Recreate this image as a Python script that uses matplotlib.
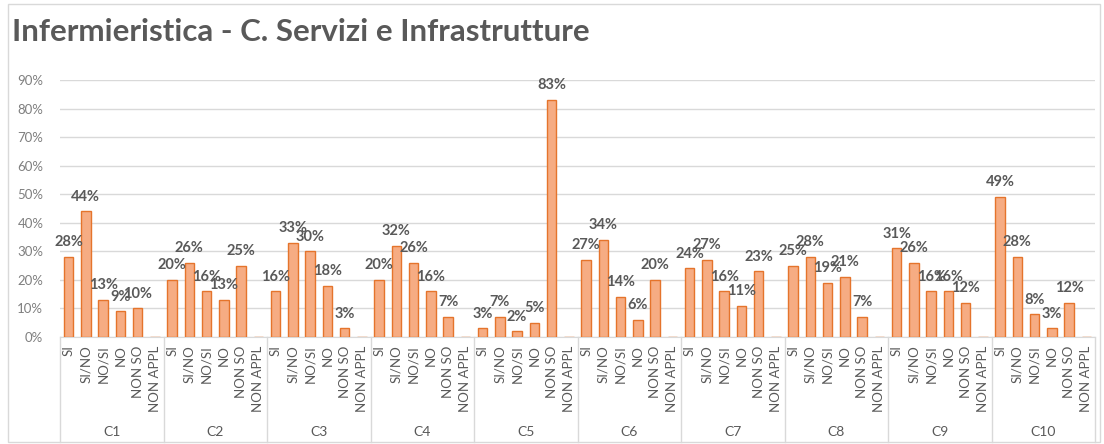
import numpy as np
import matplotlib
matplotlib.use('Agg')
from matplotlib import pyplot as plt
import matplotlib.transforms as mtransforms

plt.rcParams['font.family'] = ['Lato', 'DejaVu Sans']

gruppi = ['C1', 'C2', 'C3', 'C4', 'C5', 'C6', 'C7', 'C8', 'C9', 'C10']
risposte = ['SI', 'SI/NO', 'NO/SI', 'NO', 'NON SO', 'NON APPL']
# percentuali per gruppo (SI, SI/NO, NO/SI, NO, NON SO, NON APPL)
c1 = [28, 44, 13, 9, 10, 0]
c2 = [20, 26, 16, 13, 25, 0]
c3 = [16, 33, 30, 18, 3, 0]
c4 = [20, 32, 26, 16, 7, 0]
c5 = [3, 7, 2, 5, 83, 0]
c6 = [27, 34, 14, 6, 20, 0]
c7 = [24, 27, 16, 11, 23, 0]
c8 = [25, 28, 19, 21, 7, 0]
c9 = [31, 26, 16, 16, 12, 0]
c10 = [49, 28, 8, 3, 12, 0]
valori = [c1, c2, c3, c4, c5, c6, c7, c8, c9, c10]

grigio = '#595959'
W, H = 1104, 444
fig = plt.figure(figsize=(W/100, H/100), dpi=100)
ax = fig.add_axes([60/W, 1-337/H, (1095-60)/W, (337-80)/H])

nc = len(risposte)
x = []
y = []
labels = []
for g, vals in enumerate(valori):
    for c, v in enumerate(vals):
        x.append(g*nc + c)
        y.append(v/100)
        labels.append(risposte[c])
x = np.array(x)
y = np.array(y)

bars = ax.bar(x, y, width=0.56, color='#f6ac83', edgecolor='#e5742c', linewidth=1.0, zorder=3)
for xi, yi in zip(x, y):
    if yi > 0:
        ax.annotate('%d%%' % round(yi*100), (xi, yi), xytext=(0, 5.5), textcoords='offset points',
                    ha='center', va='bottom', fontsize=10.5, color=grigio, fontweight='bold', zorder=4)

ax.set_xlim(-0.5, len(x)-0.5)
ax.set_ylim(0, 0.9)
ax.set_yticks(np.arange(0, 0.91, 0.1))
ax.set_yticklabels(['%d%%' % v for v in range(0, 91, 10)], fontsize=9.5, color='#7f7f7f')
ax.grid(axis='y', color='#d9d9d9', linewidth=1, zorder=0)
ax.set_xticks(x)
ax.set_xticklabels(labels, rotation=90, fontsize=9.5, color=grigio, va='top', ha='center')
ax.tick_params(axis='both', length=0)
ax.tick_params(axis='y', pad=12)
ax.tick_params(axis='x', pad=6)
for s in ['top', 'right', 'left']:
    ax.spines[s].set_visible(False)
ax.spines['bottom'].set_color('#d9d9d9')

trans = mtransforms.blended_transform_factory(ax.transData, ax.transAxes)
fondo = -(442-337)/(337-80)
for g in range(len(gruppi)+1):
    ax.plot([g*nc-0.5, g*nc-0.5], [0, fondo], transform=trans, color='#d9d9d9', linewidth=1, clip_on=False)
for g, nome in enumerate(gruppi):
    ax.text(g*nc+2.5, -(432-337)/(337-80), nome, transform=trans, ha='center', va='center',
            fontsize=10, color=grigio)

fig.text(12/W, 1-32/H, 'Infermieristica - C. Servizi e Infrastrutture', fontsize=22.5, fontweight='bold',
         color=grigio, ha='left', va='center')

bordo = plt.Rectangle((8/W, 2/H), (W-12)/W, (H-6)/H, transform=fig.transFigure, fill=False,
                      edgecolor='#d9d9d9', linewidth=1)
fig.patches.append(bordo)

plt.savefig('out.png', dpi=100)
